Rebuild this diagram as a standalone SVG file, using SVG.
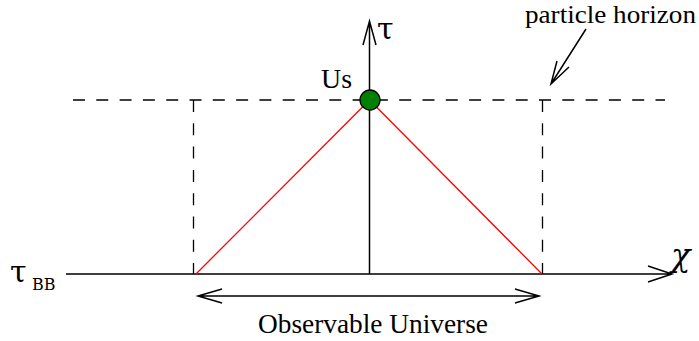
<svg xmlns="http://www.w3.org/2000/svg" width="699" height="341" viewBox="0 0 699 341">
<style>
.ax{stroke:#000;stroke-width:1.5;fill:none}
.dash{stroke:#000;stroke-width:1.3;fill:none;stroke-dasharray:12 11.3}
.red{stroke:#ff0000;stroke-width:1.3;fill:none}
</style>
<rect width="699" height="341" fill="#fff"/>
<g id="connectors">
<path class="dash" d="M73 100H665"/>
<path class="dash" d="M193.5 100V274"/>
<path class="dash" d="M542.5 100V274"/>
<path class="ax" d="M66 274H672M648 266L672 274L648 282"/>
<path class="ax" d="M369.5 274V21M363 45L369.5 21L376 45"/>
<path class="red" d="M369.5 100L196 274M369.5 100L542 274"/>
<path class="ax" d="M198 296H539M222 289L198 296L222 303M515 289L539 296L515 303"/>
<path class="ax" d="M586 29L551 84M557 61L551 84L569 67"/>
</g>
<g id="us">
<circle cx="370" cy="100" r="10" fill="#008000" stroke="#000" stroke-width="1.3"/>
<text x="321" y="88" font-family="Liberation Serif, Times New Roman, serif" font-size="27" textLength="31" lengthAdjust="spacingAndGlyphs">Us</text>
</g>
<g id="labels">
<text x="377" y="39" font-family="DejaVu Serif, serif" font-size="30">τ</text>
<text x="671" y="266" font-family="DejaVu Serif, serif" font-size="32" font-style="italic">χ</text>
<text x="10" y="282" font-family="DejaVu Serif, serif" font-size="30">τ</text>
<text x="32" y="290" font-family="DejaVu Serif, serif" font-size="16">BB</text>
<text x="525" y="23" font-family="Liberation Serif, Times New Roman, serif" font-size="25.5" textLength="171" lengthAdjust="spacingAndGlyphs">particle horizon</text>
<text x="258" y="333" font-family="Liberation Serif, Times New Roman, serif" font-size="27" textLength="230" lengthAdjust="spacingAndGlyphs">Observable Universe</text>
</g>
</svg>
